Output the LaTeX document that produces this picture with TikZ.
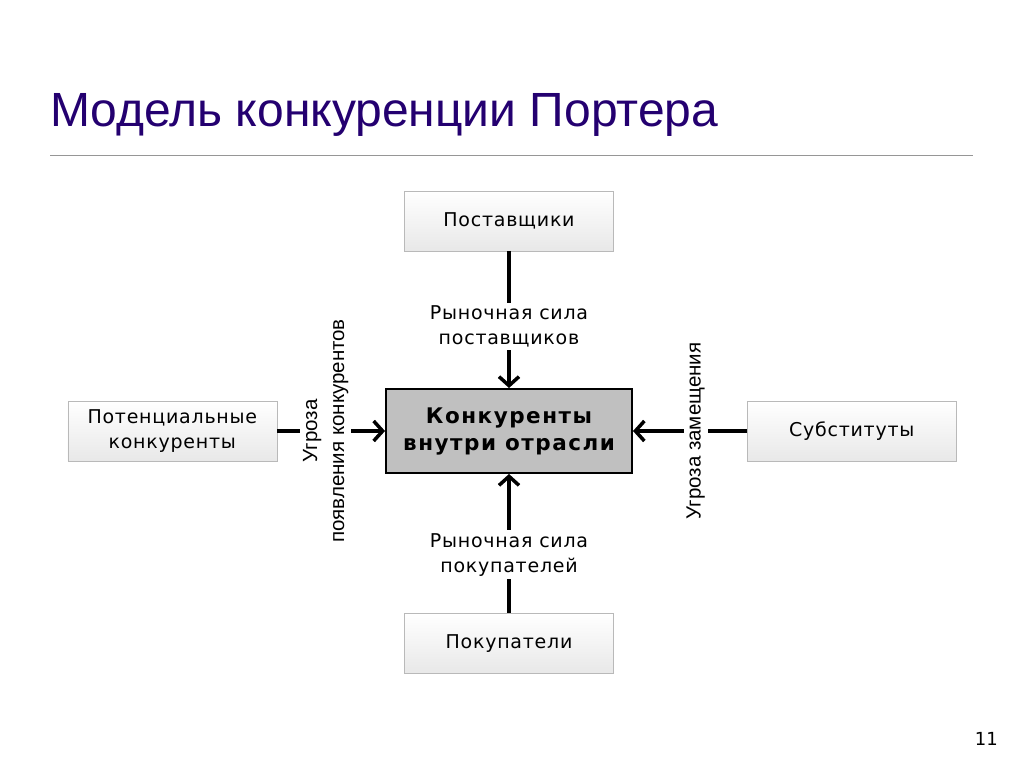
\documentclass[tikz,border=0pt]{standalone}
\usepackage{fontspec}
\setmainfont{DejaVu Sans}
\newfontfamily\titlefont{Liberation Sans}
\newfontfamily\boxfont[LetterSpace=4]{DejaVu Sans}
\newfontfamily\corefont[LetterSpace=7]{DejaVu Sans}
\usepackage{xcolor}
\definecolor{porterindigo}{RGB}{36,0,112}
\definecolor{porterrule}{RGB}{150,150,150}
\definecolor{porterframe}{RGB}{185,185,185}
\definecolor{portercore}{RGB}{192,192,192}
\usepackage{tikz}
\usetikzlibrary{positioning,arrows.meta}

\tikzset{
  forcebox/.style={draw=porterframe,top color=white,bottom color=gray!18,
                   minimum width=209pt,minimum height=60pt,align=center,
                   inner sep=2pt,font=\boxfont\fontsize{19}{25}\selectfont},
  corebox/.style={draw=black,line width=2pt,fill=portercore,
                  minimum width=246pt,minimum height=84pt,align=center,
                  font=\corefont\bfseries\fontsize{21.5}{27}\selectfont},
  forcearrow/.style={line width=3.5pt,-{Straight Barb[length=9pt,width=20pt]}},
  forcelabel/.style={fill=white,align=center,inner sep=3pt,
                     font=\boxfont\fontsize{19}{25}\selectfont},
  threatlabel/.style={fill=white,align=center,rotate=90,inner sep=3pt,
                      font=\titlefont\fontsize{20.5}{27}\selectfont}
}

\begin{document}
\begin{tikzpicture}[x=1pt,y=1pt]
  \useasboundingbox[fill=white] (0,0) rectangle (1024,768);

  % title and rule
  \node[anchor=base west,inner sep=0,text=porterindigo,
        font=\titlefont\fontsize{48}{52}\selectfont] (title) at (50,641)
        {Модель конкуренции Портера};
  \draw[porterrule,line width=1pt] (50,612) -- (973,612);

  % five forces
  \node[corebox] (core) at (509,337) {Конкуренты\\внутри отрасли};
  \node[forcebox,above=137pt of core] (supp) {Поставщики};
  \node[forcebox,below=139pt of core] (buy) {Покупатели};
  \node[forcebox,left=108pt of core] (entr) {Потенциальные\\конкуренты};
  \node[forcebox,right=114pt of core] (subs) {Субституты};

  % pressures on the industry
  \draw[forcearrow] (supp) -- node[forcelabel,pos=0.55] {Рыночная сила\\поставщиков} (core);
  \draw[forcearrow] (buy) -- node[forcelabel,pos=0.42] {Рыночная сила\\покупателей} (core);
  \draw[forcearrow] (entr) -- node[threatlabel,pos=0.45] {Угроза\\появления конкурентов} (core);
  \draw[forcearrow] (subs) -- node[threatlabel,pos=0.45] {Угроза замещения} (core);

  \node[anchor=base east,inner sep=0,font=\fontsize{18}{20}\selectfont] (pagenum) at (998,23) {11};
\end{tikzpicture}
\end{document}
